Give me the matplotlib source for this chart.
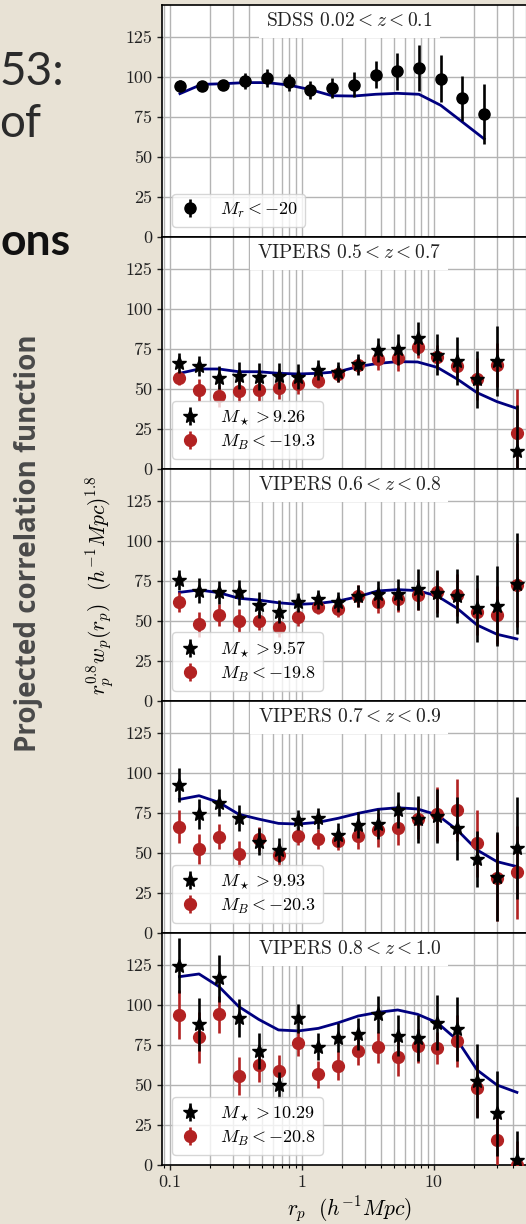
import matplotlib
matplotlib.use("Agg")
import matplotlib.pyplot as plt
from matplotlib.ticker import LogLocator, NullFormatter

plt.rcParams['mathtext.fontset'] = 'cm'
plt.rcParams['font.family'] = ['cmr10']
plt.rcParams['axes.formatter.use_mathtext'] = True
plt.rcParams['axes.unicode_minus'] = True

# ---------------------------------------------------------------- data
# SDSS 0.02 < z < 0.1
rp_sdss = [0.119, 0.174, 0.254, 0.371, 0.542, 0.792, 1.157, 1.69, 2.47,
           3.61, 5.27, 7.70, 11.25, 16.4, 24.0]
wp_sdss = [94.6, 94.6, 95.0, 97.5, 99.2, 96.7, 91.7, 93.1, 95.2, 101.5,
           103.5, 105.8, 99.0, 86.7, 76.9]
err_sdss = [3.3, 3.0, 3.0, 5.2, 5.6, 5.3, 5.7, 6.5, 7.7, 8.6, 11.7, 14.3,
            14.5, 14.0, 19.0]
model_sdss = [89.6, 95.4, 95.8, 96.5, 96.5, 95.0, 92.1, 88.3, 88.1, 89.2,
              89.8, 89.2, 82.3, 71.9, 61.3]

# VIPERS separation bins
rp_vipers = [0.118, 0.166, 0.235, 0.332, 0.470, 0.664, 0.939, 1.33, 1.88,
             2.66, 3.76, 5.31, 7.51, 10.6, 15.0, 21.2, 30.0, 42.5]

# VIPERS 0.5 < z < 0.7
mstar_05 = [66.0, 64.4, 57.1, 58.3, 57.7, 58.3, 57.7, 61.9, 60.8, 65.4,
            74.4, 74.8, 81.7, 71.3, 67.5, 56.0, 67.5, 11.5]
mstar_err_05 = [6.2, 6.5, 7.3, 8.4, 8.5, 8.1, 7.9, 6.2, 6.2, 6.5, 7.3, 9.7,
                10.4, 12.8, 14.9, 18.0, 21.6, 28.5]
mb_05 = [57.1, 49.4, 45.6, 48.7, 49.4, 50.4, 53.1, 55.2, 59.2, 65.0, 68.5,
         69.2, 76.5, 70.2, 64.6, 56.2, 65.0, 22.3]
mb_err_05 = [4.6, 7.0, 7.0, 7.0, 7.0, 6.7, 6.0, 4.5, 4.9, 5.0, 6.8, 7.8,
             7.3, 7.6, 6.8, 13.0, 14.0, 28.0]
model_05 = [59.8, 62.5, 62.5, 60.8, 60.8, 59.8, 59.4, 59.8, 60.8, 64.0,
            66.0, 67.1, 66.9, 63.5, 56.2, 47.7, 42.1, 37.9]

# VIPERS 0.6 < z < 0.8
mstar_06 = [75.6, 69.0, 67.9, 67.9, 60.0, 55.8, 61.7, 63.5, 62.1, 65.6,
            66.7, 66.7, 69.8, 67.3, 65.6, 57.9, 59.6, 73.3]
mstar_err_06 = [6.5, 7.8, 7.3, 7.6, 8.1, 7.3, 6.1, 5.9, 6.2, 6.8, 8.3, 9.7,
                12.7, 14.8, 16.9, 20.8, 25.0, 31.5]
mb_06 = [61.7, 47.9, 53.8, 50.2, 50.2, 46.5, 52.3, 58.5, 57.3, 65.6, 62.1,
         63.5, 66.3, 68.3, 66.3, 55.8, 53.8, 72.5]
mb_err_06 = [6.2, 7.8, 6.8, 7.0, 5.7, 6.2, 5.5, 4.3, 5.0, 6.6, 7.0, 7.6,
             9.4, 13.0, 13.0, 14.6, 18.2, 26.0]
model_06 = [67.9, 69.4, 67.7, 64.2, 63.1, 61.4, 60.4, 61.0, 62.5, 65.2,
            68.8, 69.6, 69.0, 65.6, 57.9, 47.5, 41.7, 38.8]

# VIPERS 0.7 < z < 0.9
mstar_07 = [92.5, 74.4, 81.5, 72.1, 57.1, 51.9, 70.6, 71.7, 61.3, 67.5,
            68.1, 76.9, 71.0, 73.1, 65.4, 46.3, 35.2, 53.3]
mstar_err_07 = [10.4, 9.2, 8.2, 8.1, 8.3, 7.7, 6.2, 6.7, 7.3, 8.3, 9.6,
                11.2, 14.5, 16.9, 19.5, 17.7, 28.0, 32.0]
mb_07 = [66.5, 52.5, 60.2, 49.6, 58.8, 48.8, 60.6, 58.8, 57.7, 60.8, 64.4,
         65.4, 71.2, 74.4, 76.7, 56.0, 34.6, 37.9]
mb_err_07 = [10.4, 9.4, 8.0, 8.1, 7.6, 7.0, 5.4, 6.0, 6.0, 8.0, 10.4, 10.4,
             12.5, 17.0, 19.3, 21.0, 27.0, 29.0]
model_07 = [83.5, 85.8, 81.6, 74.2, 71.2, 68.5, 68.1, 69.2, 71.7, 74.8,
            77.3, 78.3, 77.5, 73.8, 64.4, 51.9, 44.6, 41.5]

# VIPERS 0.8 < z < 1.0
mstar_08 = [124.6, 87.9, 116.7, 91.7, 71.3, 50.0, 91.7, 74.0, 79.6, 81.9,
            94.2, 80.8, 79.6, 88.9, 85.0, 52.5, 32.3, 3.1]
mstar_err_08 = [17.2, 16.7, 14.6, 11.8, 11.1, 8.1, 9.2, 8.3, 9.1, 10.1,
                11.7, 12.8, 14.3, 17.2, 20.3, 23.0, 26.6, 18.0]
mb_08 = [93.8, 79.8, 94.2, 55.6, 62.5, 59.0, 76.0, 56.7, 62.1, 71.5, 73.5,
         67.7, 74.4, 73.3, 77.5, 47.9, 15.6, 0.0]
mb_err_08 = [15.3, 15.9, 11.5, 11.9, 10.4, 9.9, 8.0, 8.3, 8.9, 9.1, 9.7,
             11.8, 10.9, 9.9, 16.1, 17.7, 20.0, 15.0]
model_08 = [117.7, 119.4, 111.5, 99.0, 91.0, 84.4, 83.8, 85.4, 88.9, 93.1,
            95.4, 96.9, 94.2, 88.9, 78.1, 59.4, 50.0, 45.4]

vipers_titles = [r"VIPERS $0.5 < z < 0.7$", r"VIPERS $0.6 < z < 0.8$",
                 r"VIPERS $0.7 < z < 0.9$", r"VIPERS $0.8 < z < 1.0$"]
mstar_labels = [r"$M_\star > 9.26$", r"$M_\star > 9.57$",
                r"$M_\star > 9.93$", r"$M_\star > 10.29$"]
mb_labels = [r"$M_B < -19.3$", r"$M_B < -19.8$",
             r"$M_B < -20.3$", r"$M_B < -20.8$"]
mstar_sets = [mstar_05, mstar_06, mstar_07, mstar_08]
mstar_err_sets = [mstar_err_05, mstar_err_06, mstar_err_07, mstar_err_08]
mb_sets = [mb_05, mb_06, mb_07, mb_08]
mb_err_sets = [mb_err_05, mb_err_06, mb_err_07, mb_err_08]
model_sets = [model_05, model_06, model_07, model_08]

yticks = [0, 25, 50, 75, 100, 125]

# ---------------------------------------------------------------- figure
W, H = 526, 1224
fig = plt.figure(figsize=(W / 100, H / 100), dpi=100)
bg = '#e8e2d5'
fig.patch.set_facecolor(bg)

# slide fragments on the left
sans = ['Lato', 'DejaVu Sans']
fig.text(-1 / W, 1 - 72 / H, "53:", fontsize=33, family=sans, color='#2b2b2b',
         ha='left', va='center')
fig.text(-1 / W, 1 - 124 / H, "of", fontsize=33, family=sans, color='#2b2b2b',
         ha='left', va='center')
fig.text(1 / W, 1 - 242 / H, "ons", fontsize=32, family=sans, weight='bold',
         color='#111111', ha='left', va='center')
fig.text(29 / W, 1 - 543 / H, "Projected correlation function", fontsize=20,
         family=['Open Sans', 'DejaVu Sans'], weight='bold', color='#4a4a4a',
         rotation=90, ha='center', va='center')

left_px, right_px = 162, 536.7
top_px, panel_h = 5, 232
axes = []
for i in range(5):
    bottom_px = top_px + panel_h * (i + 1)
    ax = fig.add_axes([left_px / W, 1 - bottom_px / H,
                       (right_px - left_px) / W, panel_h / H])
    axes.append(ax)


def style_axis(ax, bottom):
    ax.set_xscale('log')
    ax.set_xlim(0.087, 60)
    ax.set_ylim(0, 145)
    ax.set_yticks(yticks)
    ax.set_yticklabels([str(t) for t in yticks])
    ax.set_xticks([0.1, 1, 10])
    ax.xaxis.set_minor_locator(LogLocator(base=10, subs=range(2, 10)))
    ax.xaxis.set_minor_formatter(NullFormatter())
    ax.grid(True, which='both', color='#b4b4b4', lw=1.0)
    ax.set_axisbelow(True)
    ax.tick_params(axis='both', labelsize=13, colors='#222222', width=1)
    ax.tick_params(axis='x', which='minor', width=0.8)
    for s in ax.spines.values():
        s.set_linewidth(1.2)
        s.set_zorder(3)
    if bottom:
        ax.set_xticklabels(['0.1', '1', '10'])
    else:
        ax.tick_params(axis='x', which='both', labelbottom=False, length=0)


def panel_title(ax, text):
    # white label box hanging from the top edge of the panel
    ax.text(0.5, 1 - 7.5 / panel_h, text, transform=ax.transAxes,
            ha='center', va='top', fontsize=14, color='#222222', zorder=2.6,
            bbox=dict(facecolor='white', edgecolor='none', pad=5.2))


eb_kw = dict(ls='none', elinewidth=1.9, capsize=0)
model_color = '#00007f'
leg_kw = dict(loc='lower left', fontsize=13, handlelength=1.2,
              handletextpad=1.05, borderaxespad=0.55, borderpad=0.4,
              labelspacing=0.3)

# SDSS panel
ax = axes[0]
style_axis(ax, False)
ax.plot(rp_sdss, model_sdss, color=model_color, lw=2.0, zorder=3)
h = ax.errorbar(rp_sdss, wp_sdss, yerr=err_sdss, fmt='o', color='black',
                ms=8, zorder=4, **eb_kw)
panel_title(ax, r"SDSS $0.02 < z < 0.1$")
ax.legend([h], [r"$M_r < -20$"], **leg_kw)

# VIPERS panels
for k in range(4):
    ax = axes[k + 1]
    style_axis(ax, k == 3)
    ax.plot(rp_vipers, model_sets[k], color=model_color, lw=2.0, zorder=3)
    h_mb = ax.errorbar(rp_vipers, mb_sets[k], yerr=mb_err_sets[k], fmt='o',
                       color='#b22222', ms=8.5, zorder=4, **eb_kw)
    h_ms = ax.errorbar(rp_vipers, mstar_sets[k], yerr=mstar_err_sets[k],
                       fmt='*', color='black', ms=10, zorder=4.5, **eb_kw)
    panel_title(ax, vipers_titles[k])
    ax.legend([h_ms, h_mb], [mstar_labels[k], mb_labels[k]], **leg_kw)

axes[2].set_ylabel(r"$r_p^{0.8}w_p(r_p)\ \ (h^{-1}Mpc)^{1.8}$", fontsize=15.5,
                   labelpad=6)
axes[4].set_xlabel(r"$r_p\ \ (h^{-1}Mpc)$", fontsize=15.5, labelpad=3)

fig.savefig('out.png', dpi=100, facecolor=bg)
